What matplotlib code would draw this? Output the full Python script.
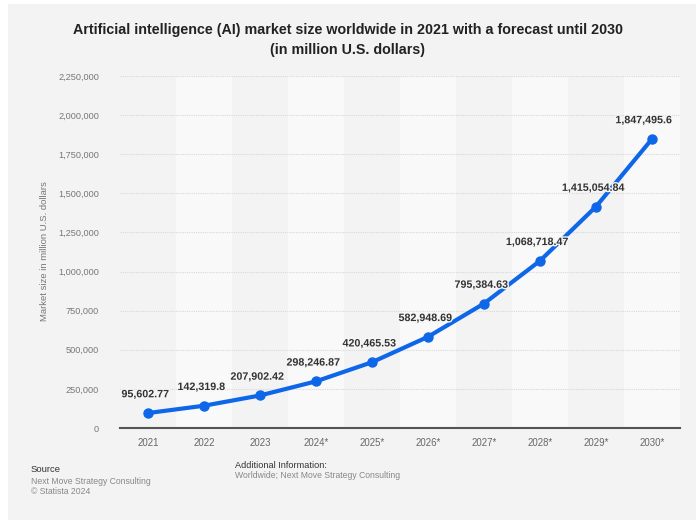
import matplotlib.pyplot as plt
import matplotlib.patheffects as pe
from matplotlib.patches import Rectangle
from matplotlib.ticker import FuncFormatter

plt.rcParams['font.family'] = ['Liberation Sans', 'DejaVu Sans']

# Market size in million U.S. dollars
years = ['2021', '2022', '2023', '2024*', '2025*', '2026*', '2027*', '2028*', '2029*', '2030*']
market_size = [95602.77, 142319.8, 207902.42, 298246.87, 420465.53,
               582948.69, 795384.63, 1068718.47, 1415054.84, 1847495.6]
value_labels = ['95,602.77', '142,319.8', '207,902.42', '298,246.87', '420,465.53',
                '582,948.69', '795,384.63', '1,068,718.47', '1,415,054.84', '1,847,495.6']

fig = plt.figure(figsize=(6.96, 5.2), dpi=100)
fig.patch.set_facecolor('white')
# grey card behind everything
fig.patches.append(Rectangle((8 / 696, 0), 1, 1 - 4 / 520, transform=fig.transFigure,
                             facecolor='#f3f3f3', edgecolor='none', zorder=-10))

ax = fig.add_axes([120 / 696, 92 / 520, 560 / 696, 352 / 520])
ax.set_facecolor('none')

x = list(range(len(years)))

# alternating column shading
for i in x:
    ax.axvspan(i - 0.5, i + 0.5, color='#f9f9f9' if i % 2 else '#f3f3f3', zorder=0, lw=0)

ax.plot(x, market_size, color='#0d67e8', lw=3, marker='o', ms=6.5, zorder=3,
        solid_capstyle='round')

halo = [pe.withStroke(linewidth=2, foreground='#f6f6f6')]
for xi, v, lab in zip(x, market_size, value_labels):
    dx = -6 if xi == x[-1] else -2
    ax.annotate(lab, (xi, v), xytext=(dx, 13.5), textcoords='offset points',
                ha='center', va='center', fontsize=7.7, fontweight='bold', color='#333333',
                zorder=4, annotation_clip=False, path_effects=halo)

ax.set_xlim(-0.5, len(years) - 0.5)
ax.set_ylim(0, 2250000)
ax.set_yticks(range(0, 2250001, 250000))
ax.yaxis.set_major_formatter(FuncFormatter(lambda v, _: f'{int(v):,}'))
ax.set_xticks(x)
ax.set_xticklabels(years)

ax.grid(axis='y', color='#d8d8d8', lw=0.8, ls=(0, (1, 1)), zorder=1)
ax.set_axisbelow(True)
for side in ['top', 'right', 'left']:
    ax.spines[side].set_visible(False)
ax.spines['bottom'].set_color('#555555')
ax.spines['bottom'].set_linewidth(1.5)
ax.spines['bottom'].set_zorder(2)

ax.tick_params(axis='y', length=0, pad=15, labelsize=6.6, labelcolor='#777777')
ax.tick_params(axis='x', length=0, pad=7, labelsize=6.9, labelcolor='#666666')

fig.text(45 / 696, 1 - 251 / 520, 'Market size in million U.S. dollars', rotation=90,
         ha='center', va='center', fontsize=6.8, color='#777777')

fig.text(348 / 696, 1 - 30 / 520,
         'Artificial intelligence (AI) market size worldwide in 2021 with a forecast until 2030',
         ha='center', va='center', fontsize=10.3, fontweight='bold', color='#222222')
fig.text(348 / 696, 1 - 50 / 520, '(in million U.S. dollars)',
         ha='center', va='center', fontsize=10.3, fontweight='bold', color='#222222')

fig.text(31 / 696, 1 - 469 / 520, 'Source', ha='left', va='center', fontsize=6.8, color='#333333')
fig.text(31 / 696, 1 - 481 / 520, 'Next Move Strategy Consulting', ha='left', va='center',
         fontsize=6.2, color='#888888')
fig.text(31 / 696, 1 - 492 / 520, '\u00a9 Statista 2024', ha='left', va='center',
         fontsize=6.2, color='#888888')
fig.text(235 / 696, 1 - 465 / 520, 'Additional Information:', ha='left', va='center',
         fontsize=6.6, color='#333333')
fig.text(235 / 696, 1 - 476 / 520, 'Worldwide; Next Move Strategy Consulting', ha='left',
         va='center', fontsize=6.2, color='#888888')

fig.savefig('out.png', dpi=100, facecolor=fig.get_facecolor())
